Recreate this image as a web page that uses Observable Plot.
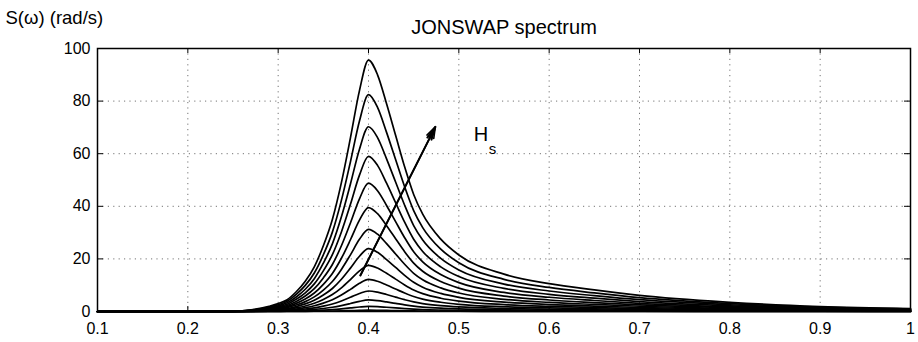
<!DOCTYPE html>
<html><head><meta charset="utf-8">
<script src="https://cdn.jsdelivr.net/npm/d3@7"></script>
<script src="https://cdn.jsdelivr.net/npm/@observablehq/plot@0.6"></script>
<style>
body{margin:0;background:#fff}
#chart svg{font-family:"Liberation Sans",Arial,Helvetica,sans-serif;}
</style>
</head><body><div id="chart"></div>
<script>
// Frequency grid (rad/s)
const omega = [0.1,0.2,0.25,0.27,0.29,0.30,0.31,0.32,0.33,0.34,0.35,0.36,0.37,0.38,0.39,0.40,0.41,0.42,0.43,0.44,0.45,0.46,0.48,0.50,0.55,0.60,0.65,0.70,0.80,0.90,1.0];

// Spectrum curves, one per significant wave height
const hs1  = [0,0,0,0,0.01,0.02,0.02,0.04,0.06,0.09,0.13,0.18,0.25,0.34,0.43,0.49,0.46,0.40,0.34,0.28,0.23,0.19,0.14,0.11,0.07,0.05,0.04,0.03,0.02,0.01,0.01];
const hs2  = [0,0,0,0.01,0.04,0.06,0.09,0.15,0.23,0.35,0.51,0.71,1.0,1.35,1.71,1.95,1.84,1.61,1.37,1.12,0.91,0.75,0.56,0.44,0.29,0.22,0.17,0.12,0.07,0.04,0.02];
const hs3  = [0,0,0,0.03,0.09,0.14,0.21,0.34,0.53,0.78,1.15,1.61,2.25,3.03,3.86,4.39,4.13,3.63,3.08,2.52,2.04,1.70,1.26,0.99,0.65,0.49,0.38,0.28,0.16,0.09,0.05];
const hs4  = [0,0,0.01,0.05,0.16,0.24,0.37,0.61,0.94,1.39,2.04,2.86,4.0,5.39,6.85,7.80,7.34,6.45,5.47,4.49,3.63,3.02,2.24,1.75,1.16,0.86,0.67,0.50,0.29,0.16,0.09];
const hs5  = [0,0,0.01,0.08,0.26,0.38,0.57,0.96,1.47,2.17,3.19,4.47,6.25,8.42,10.72,12.20,11.48,10.08,8.55,7.02,5.68,4.72,3.51,2.74,1.81,1.35,1.05,0.78,0.45,0.24,0.14];
const hs6  = [0,0,0.02,0.11,0.37,0.55,0.83,1.38,2.11,3.12,4.59,6.43,9.0,12.12,15.43,17.56,16.53,14.51,12.31,10.10,8.17,6.80,5.05,3.95,2.61,1.95,1.51,1.12,0.64,0.35,0.20];
const hs7  = [0,0,0.03,0.15,0.5,0.75,1.13,1.88,2.88,4.25,6.25,8.75,12.25,16.5,21,23.9,22.5,19.75,16.75,13.75,11.13,9.25,6.88,5.38,3.55,2.65,2.05,1.53,0.88,0.48,0.28];
const hs8  = [0,0,0.03,0.2,0.65,0.98,1.47,2.45,3.75,5.55,8.16,11.43,16.0,21.55,27.43,31.21,29.39,25.79,21.88,17.96,14.53,12.08,8.98,7.02,4.64,3.46,2.68,1.99,1.14,0.62,0.36];
const hs9  = [0,0,0.04,0.25,0.83,1.24,1.86,3.10,4.75,7.03,10.33,14.47,20.25,27.28,34.72,39.51,37.20,32.65,27.69,22.73,18.39,15.29,11.37,8.89,5.87,4.38,3.39,2.52,1.45,0.79,0.45];
const hs10 = [0,0,0.05,0.31,1.02,1.53,2.30,3.83,5.87,8.67,12.76,17.86,25.0,33.67,42.86,48.78,45.92,40.31,34.18,28.06,22.70,18.88,14.03,10.97,7.24,5.41,4.18,3.11,1.79,0.97,0.56];
const hs11 = [0,0,0.06,0.37,1.23,1.85,2.78,4.63,7.10,10.49,15.43,21.61,30.25,40.74,51.85,59.01,55.56,48.77,41.36,33.95,27.47,22.84,16.98,13.27,8.77,6.54,5.06,3.77,2.16,1.17,0.68];
const hs12 = [0,0,0.07,0.44,1.47,2.20,3.31,5.51,8.45,12.49,18.37,25.71,36.0,48.49,61.71,70.24,66.12,58.04,49.22,40.41,32.69,27.18,20.20,15.80,10.43,7.79,6.02,4.48,2.57,1.40,0.81];
const hs13 = [0,0,0.09,0.52,1.72,2.59,3.88,6.47,9.92,14.66,21.56,30.18,42.25,56.91,72.42,82.43,77.60,68.11,57.77,47.42,38.37,31.90,23.71,18.54,12.24,9.14,7.07,5.26,3.02,1.64,0.95];
const hs14 = [0,0,0.1,0.6,2,3,4.5,7.5,11.5,17,25,35,49,66,84,95.6,90,79,67,55,44.5,37,27.5,21.5,14.2,10.6,8.2,6.1,3.5,1.9,1.1];

const seriesList = [hs1,hs2,hs3,hs4,hs5,hs6,hs7,hs8,hs9,hs10,hs11,hs12,hs13,hs14];
const seriesNames = ["Hs1","Hs2","Hs3","Hs4","Hs5","Hs6","Hs7","Hs8","Hs9","Hs10","Hs11","Hs12","Hs13","Hs14"];

// Tick labels
const xTicks = [0.1,0.2,0.3,0.4,0.5,0.6,0.7,0.8,0.9,1];
const yTicks = [0,20,40,60,80,100];

// Texts & annotation
const titleText = "JONSWAP spectrum";
const yLabelText = "S(ω) (rad/s)";
const arrowData = [{x1:0.391, y1:13.7, x2:0.474, y2:70.2}];
const hsLabel = [{x:0.5245, y:67.2, text:"H"}];
const hsSub = [{x:0.5374, y:61.8, text:"s"}];

const data = seriesList.flatMap((arr, k) => omega.map((w, i) => ({omega: w, S: arr[i], series: seriesNames[k]})));

const innerX = xTicks.slice(1, -1);
const innerY = yTicks.slice(1, -1);
const gridStyle = {stroke: "#000", strokeOpacity: 0.55, strokeWidth: 1, strokeDasharray: "1.2,4.2"};

const chart = Plot.plot({
  width: 918,
  height: 342,
  marginLeft: 97,
  marginRight: 8,
  marginTop: 48,
  marginBottom: 31,
  style: {fontSize: "16px", fontFamily: "'Liberation Sans', Arial, Helvetica, sans-serif", color: "#000", background: "#fff"},
  x: {domain: [0.1, 1], ticks: xTicks, tickFormat: d3.format("~g"), tickSize: 0, tickPadding: 11, label: null},
  y: {domain: [0, 100], ticks: yTicks, tickSize: 0, tickPadding: 7, label: null},
  marks: [
    Plot.ruleX(innerX, gridStyle),
    Plot.ruleY(innerY, gridStyle),
    Plot.ruleX(innerX, {insetTop: 258, stroke: "#000"}),
    Plot.ruleX(innerX, {insetBottom: 258, stroke: "#000"}),
    Plot.ruleY(innerY, {insetRight: 807, stroke: "#000"}),
    Plot.ruleY(innerY, {insetLeft: 807, stroke: "#000"}),
    Plot.line(data, {x: "omega", y: "S", z: "series", stroke: "#000", strokeWidth: 1.7, curve: "monotone-x"}),
    Plot.arrow(arrowData, {x1: "x1", y1: "y1", x2: "x2", y2: "y2", stroke: "#000", strokeWidth: 1.6, headLength: 11, headAngle: 38}),
    Plot.arrow(arrowData, {x1: "x1", y1: "y1", x2: "x2", y2: "y2", stroke: "#000", strokeWidth: 2, headLength: 10, headAngle: 20}),
    Plot.text(hsLabel, {x: "x", y: "y", text: "text", fontSize: 20}),
    Plot.text(hsSub, {x: "x", y: "y", text: "text", fontSize: 15}),
    Plot.frame({stroke: "#000", strokeWidth: 1.5}),
    Plot.text([titleText], {frameAnchor: "top", dy: -21, fontSize: 20, lineAnchor: "middle"}),
    Plot.text([yLabelText], {frameAnchor: "top-left", textAnchor: "start", dx: -92, dy: -30, fontSize: 18.5, lineAnchor: "middle"})
  ]
});
document.getElementById("chart").appendChild(chart);
</script>
</body></html>
